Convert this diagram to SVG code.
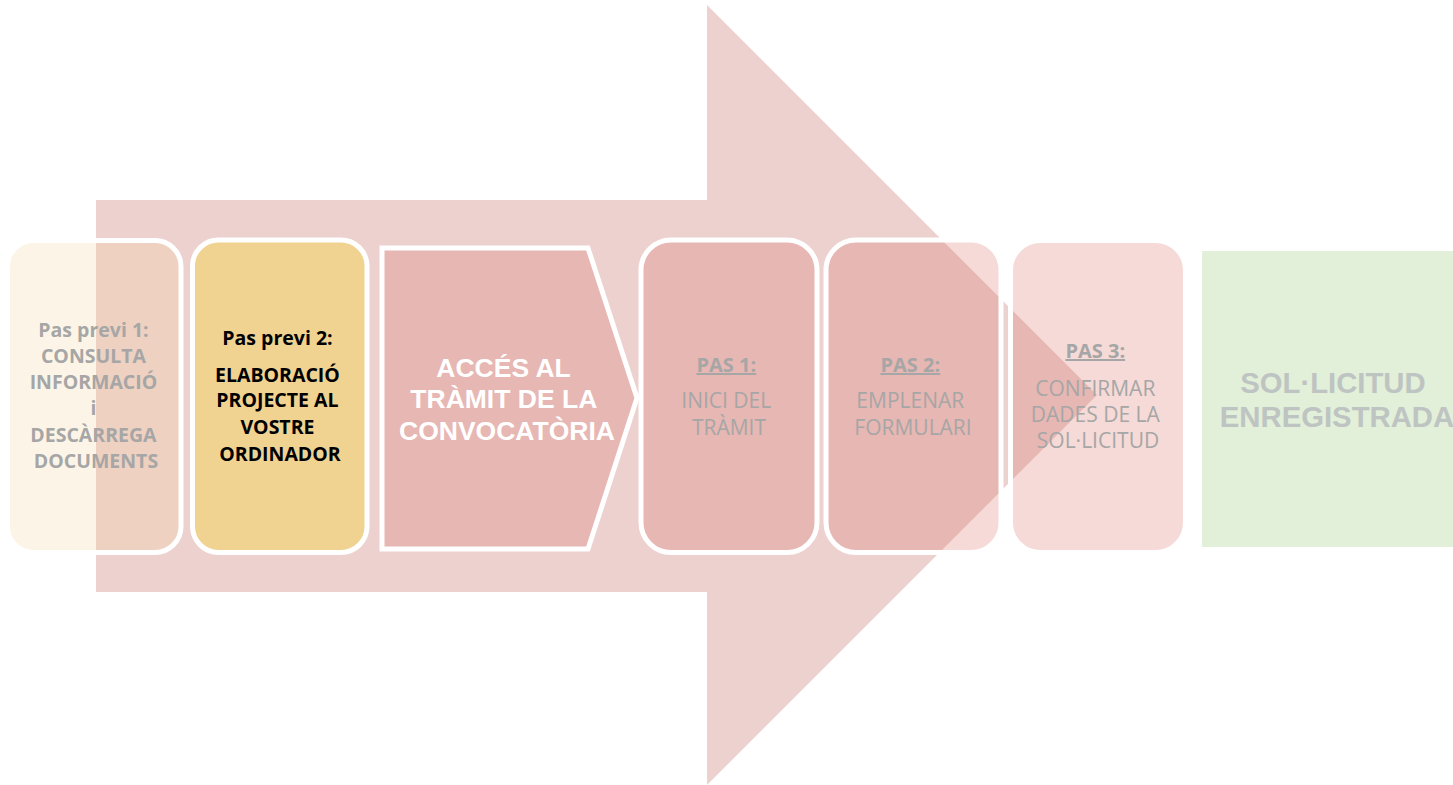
<svg xmlns="http://www.w3.org/2000/svg" width="1453" height="785" viewBox="0 0 1453 785">
  <style>
    .box { stroke: #FFFFFF; stroke-width: 5; }
    .pink { fill: #D76B5F; fill-opacity: 0.25; }
    .cal { font-family: "Open Sans", "Liberation Sans", sans-serif; text-anchor: middle; }
    .b { font-weight: bold; }
    .grey { fill: #A6A6A6; }
    .arial { font-family: "Liberation Sans", Arial, sans-serif; font-weight: bold; text-anchor: middle; }
  </style>
  <rect width="1453" height="785" fill="#FFFFFF"/>
  <g id="big-arrow">
    <polygon points="96,200 707,200 707,5 1097,395 707,785 707,592 96,592" fill="#EDD1CF"/>
  </g>
  <g id="node-pas-previ-1">
    <rect class="box" x="7.5" y="240.5" width="173.5" height="312" rx="26" fill="#F0D291" fill-opacity="0.22"/>
    <text class="cal b grey" font-size="19.5">
      <tspan x="96" y="337">Pas previ 1:</tspan>
      <tspan x="96" y="363">CONSULTA</tspan>
      <tspan x="96" y="389">INFORMACIÓ</tspan>
      <tspan x="96" y="415">i</tspan>
      <tspan x="96" y="442">DESCÀRREGA</tspan>
      <tspan x="96" y="468">DOCUMENTS</tspan>
    </text>
  </g>
  <g id="node-pas-previ-2">
    <rect class="box" x="192.5" y="240" width="174.5" height="312.5" rx="26" fill="#F0D291"/>
    <text class="cal b" font-size="19.5" fill="#000000">
      <tspan x="280" y="345">Pas previ 2:</tspan>
      <tspan x="280" y="382">ELABORACIÓ</tspan>
      <tspan x="280" y="407">PROJECTE AL</tspan>
      <tspan x="280" y="434">VOSTRE</tspan>
      <tspan x="280" y="461">ORDINADOR</tspan>
    </text>
  </g>
  <g id="node-acces">
    <polygon class="box pink" points="382,248 588,248 637,398 588,549 382,549"/>
    <text class="arial" font-size="26.5" fill="#FFFFFF">
      <tspan x="507" y="377">ACCÉS AL</tspan>
      <tspan x="507" y="408">TRÀMIT DE LA</tspan>
      <tspan x="507" y="440">CONVOCATÒRIA</tspan>
    </text>
  </g>
  <g id="node-pas-1">
    <rect class="box pink" x="641" y="240" width="176" height="312.5" rx="30"/>
    <text class="cal grey" font-size="21">
      <tspan class="b" x="729" y="372" text-decoration="underline" font-size="20">PAS 1:</tspan>
      <tspan x="729" y="408">INICI DEL</tspan>
      <tspan x="729" y="435">TRÀMIT</tspan>
    </text>
  </g>
  <g id="node-pas-2">
    <rect class="box pink" x="826" y="240" width="175" height="312.5" rx="30"/>
    <text class="cal grey" font-size="21">
      <tspan class="b" x="913" y="372" text-decoration="underline" font-size="20">PAS 2:</tspan>
      <tspan x="913" y="408">EMPLENAR</tspan>
      <tspan x="913" y="435">FORMULARI</tspan>
    </text>
  </g>
  <g id="node-pas-3">
    <rect class="box pink" x="1010.5" y="240.5" width="175" height="312" rx="30"/>
    <text class="cal grey" font-size="21">
      <tspan class="b" x="1098" y="358" text-decoration="underline" font-size="20">PAS 3:</tspan>
      <tspan x="1098" y="396">CONFIRMAR</tspan>
      <tspan x="1098" y="422">DADES DE LA</tspan>
      <tspan x="1098" y="448">SOL·LICITUD</tspan>
    </text>
  </g>
  <g id="node-sollicitud">
    <rect x="1202" y="251" width="270" height="296" fill="#E2EFD9"/>
    <text class="arial" font-size="29.3" fill="#BEC4C1">
      <tspan x="1337" y="393">SOL·LICITUD</tspan>
      <tspan x="1337" y="427">ENREGISTRADA</tspan>
    </text>
  </g>
  <g id="connectors"></g>
</svg>
